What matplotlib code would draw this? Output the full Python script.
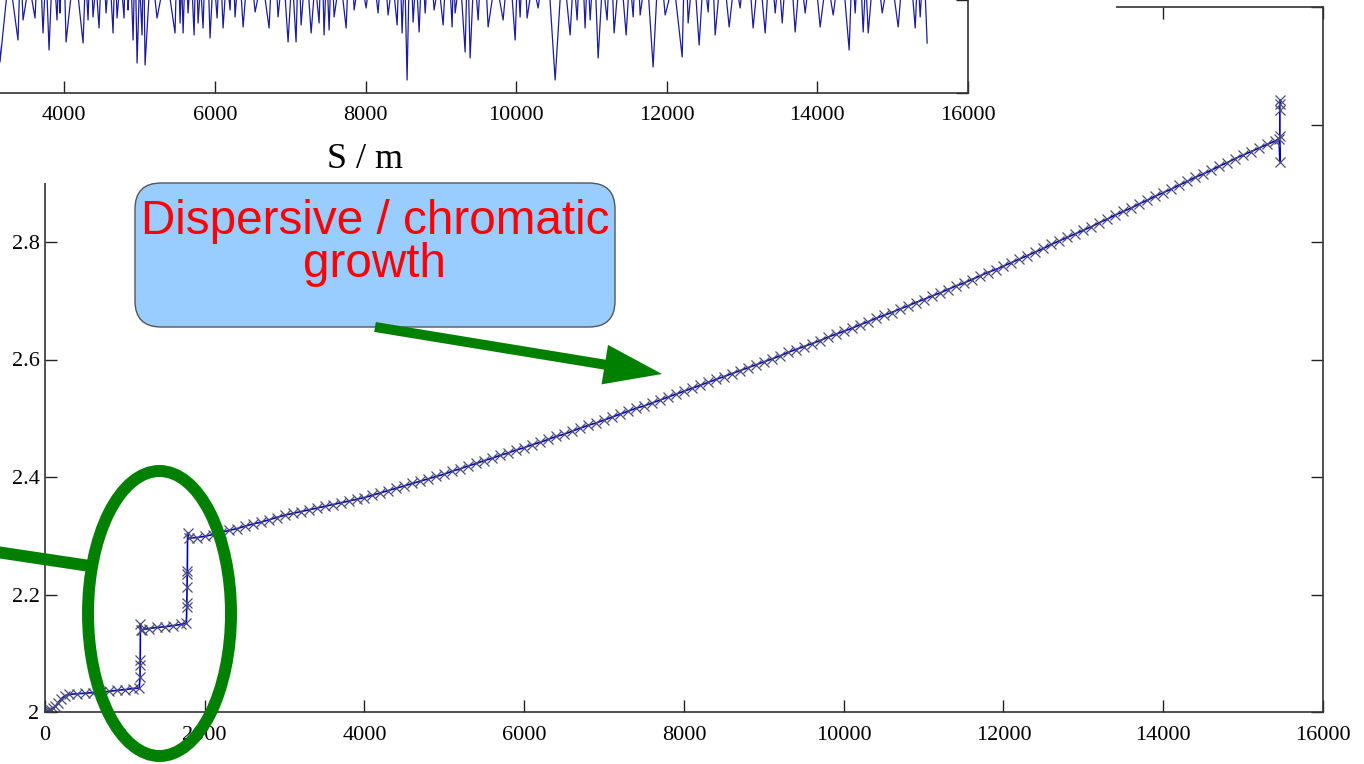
import numpy as np
import matplotlib.pyplot as plt
from matplotlib.patches import Rectangle, FancyBboxPatch, FancyArrow, Ellipse
from matplotlib.lines import Line2D
from matplotlib.transforms import IdentityTransform

# ---- main curve: emittance-like growth along S ----
early_s = [0, 20, 40, 60, 80, 100, 130, 160, 200, 250, 300, 400, 500, 600, 700,
           800, 900, 1000, 1100, 1180, 1190, 1190, 1192, 1195, 1198, 1210, 1300,
           1400, 1500, 1600, 1700, 1770, 1775, 1776, 1778, 1780, 1782, 1785]
early_val = [2.000, 2.000, 2.002, 2.001, 2.004, 2.006, 2.010, 2.015, 2.022, 2.028,
             2.030, 2.031, 2.032, 2.033, 2.034, 2.035, 2.037, 2.038, 2.040, 2.041,
             2.060, 2.080, 2.088, 2.150, 2.140, 2.140, 2.142, 2.144, 2.145, 2.147,
             2.149, 2.151, 2.178, 2.185, 2.212, 2.235, 2.240, 2.305]

arc_start, arc_step = 1800, 100
arc_val = [2.296, 2.297, 2.299, 2.302, 2.305, 2.309, 2.312, 2.316, 2.320, 2.323,
           2.327, 2.331, 2.335,
           2.338, 2.341, 2.344, 2.347, 2.350, 2.353, 2.356, 2.359, 2.362, 2.365,
           2.369, 2.373, 2.377, 2.381, 2.385, 2.389, 2.393, 2.397, 2.401, 2.405,
           2.410, 2.414, 2.419, 2.423, 2.428, 2.432, 2.437, 2.441, 2.446, 2.450,
           2.455, 2.459, 2.464, 2.469, 2.473, 2.478, 2.483, 2.488, 2.492, 2.497,
           2.502, 2.507, 2.512, 2.517, 2.521, 2.526, 2.531, 2.536, 2.541, 2.546,
           2.551, 2.556, 2.561, 2.566, 2.571, 2.576, 2.581, 2.586, 2.591, 2.596,
           2.601, 2.606, 2.612, 2.617, 2.622, 2.627, 2.632, 2.638, 2.643, 2.648,
           2.653, 2.659, 2.664, 2.670, 2.675, 2.680, 2.686, 2.691, 2.697, 2.702,
           2.708, 2.713, 2.719, 2.725, 2.730, 2.736, 2.742, 2.748, 2.753, 2.759,
           2.765, 2.771, 2.777, 2.783, 2.789, 2.796, 2.802, 2.808, 2.814, 2.820,
           2.826, 2.833, 2.839, 2.846, 2.852, 2.858, 2.865, 2.871, 2.878, 2.884,
           2.890, 2.897, 2.903, 2.910, 2.916, 2.922, 2.929, 2.935, 2.942, 2.948,
           2.954, 2.960, 2.966, 2.972]

end_s = [15450, 15460, 15460, 15460, 15460, 15460]
end_val = [2.976, 2.937, 2.980, 3.025, 3.042, 3.035]

# ---- inset: beta-beat style trace (troughs + peaks) ----
trough_s = [3147, 3386, 3453, 3612, 3718, 3798, 3904, 3944, 4024, 4250, 4316, 4382,
            4462, 4555, 4648, 4701, 4794, 4847, 4914, 4967, 5033, 5073, 5232, 5471,
            5538, 5578, 5644, 5724, 5777, 5843, 5936, 6029, 6109, 6202, 6268, 6375,
            6534, 6720, 6839, 6972, 7078, 7145, 7278, 7384, 7450, 7517, 7583, 7743,
            7849, 8008, 8167, 8300, 8420, 8486, 8552, 8632, 8712, 8792, 8911, 9031,
            9150, 9190, 9323, 9389, 9496, 9628, 9827, 9987, 10053, 10146, 10292, 10518,
            10717, 10810, 10916, 10983, 11089, 11208, 11301, 11461, 11554, 11647, 11819, 11979,
            12205, 12284, 12430, 12550, 12643, 12829, 12975, 13147, 13307, 13440, 13533, 13705,
            13838, 14037, 14210, 14422, 14502, 14608, 14675, 14861, 15073, 15299, 15365, 15458]
trough_v = [31, 53, 73, 75, 60, 43, 73, 80, 51, 50, 73, 76,
            65, 80, 60, 75, 75, 83, 53, 30, 58, 28, 75, 60,
            70, 60, 80, 58, 70, 65, 55, 75, 65, 83, 76, 66,
            81, 65, 76, 51, 51, 68, 60, 70, 58, 63, 76, 65,
            83, 85, 80, 78, 68, 60, 13, 71, 61, 80, 83, 68,
            66, 80, 41, 35, 73, 66, 73, 53, 76, 75, 85, 13,
            58, 73, 65, 73, 35, 73, 60, 58, 76, 78, 26, 78,
            36, 70, 48, 81, 58, 66, 85, 65, 60, 80, 70, 61,
            80, 66, 78, 43, 80, 61, 60, 80, 66, 65, 76, 50]
peak_v = [150, 120, 135, 110, 160, 125, 140, 115, 170, 130, 120, 145,
          110, 155, 125, 135, 118, 165, 128, 140, 112, 150, 132, 122,
          160, 115, 138, 126, 148, 110, 170, 124, 136, 118, 152, 130,
          142, 116, 162, 128, 120, 146, 134, 112, 158, 126, 140, 118,
          166, 122, 132, 150, 114, 144, 128, 160, 120, 136, 148, 110,
          154, 130, 118, 142, 126, 168, 116, 138, 124, 156, 112, 146,
          134, 120, 162, 128, 140, 114, 150, 132, 118, 158, 126, 144,
          112, 164, 130, 122, 148, 136, 116, 154, 128, 140, 120, 160,
          124, 146, 118, 138, 130, 152, 114, 142, 126, 170, 122, 136]

x_ticks = [0, 2000, 4000, 6000, 8000, 10000, 12000, 14000, 16000]
y_ticks = [2.0, 2.2, 2.4, 2.6, 2.8, 3.0, 3.2]
y_labels = ["2", "2.2", "2.4", "2.6", "2.8", "3", "3.2"]

W, H = 1364, 764
DPI = 100
serif = "Liberation Serif"
green = "#008000"


def fr(x0, y0, x1, y1):
    # pixel box (top-left origin) -> figure fraction rect
    return [x0 / W, 1 - y1 / H, (x1 - x0) / W, (y1 - y0) / H]


def px(x, y):
    return (x, H - y)


fig = plt.figure(figsize=(W / DPI, H / DPI), dpi=DPI)

# main axes
ax = fig.add_axes(fr(45, 7, 1323, 712), zorder=0)
s_main = list(early_s) + [arc_start + arc_step * i for i in range(len(arc_val))] + end_s
v_main = list(early_val) + list(arc_val) + end_val
ax.plot(s_main, v_main, color="#0000b4", lw=1.2, marker="x", ms=7,
        mec="#4a4a80", mew=0.9)
ax.set_xlim(0, 16000)
ax.set_ylim(2.0, 3.2)
ax.set_xticks(x_ticks)
ax.set_xticklabels([str(t) for t in x_ticks])
ax.set_yticks(y_ticks)
ax.set_yticklabels(y_labels)
ax.tick_params(direction="in", length=8.6, width=1.0, top=True, right=True,
               labelsize=16, color="#222222")
ax.tick_params(axis="x", pad=10)
ax.tick_params(axis="y", pad=4)
for lab in ax.get_xticklabels() + ax.get_yticklabels():
    lab.set_fontfamily(serif)
for sp in ax.spines.values():
    sp.set_color("#333333")
    sp.set_linewidth(1.2)

# white cover behind the inset
fig.add_artist(Rectangle((0, 1 - 183 / H), 1116 / W, 183 / H, transform=fig.transFigure,
                         facecolor="white", edgecolor="none", zorder=1))

# inset axes (partly outside the figure)
ins = fig.add_axes(fr(-237, -207, 968, 93), zorder=2)
ins_s, ins_v = [], []
for i, (ts, tv, pv) in enumerate(zip(trough_s, trough_v, peak_v)):
    ins_s.append(ts - 50 if i == 0 else (trough_s[i - 1] + ts) / 2)
    ins_v.append(pv)
    ins_s.append(ts)
    ins_v.append(tv)
ins.plot(ins_s, ins_v, color="#1c1ca0", lw=0.9)
ins.set_xlim(0, 16000)
ins.set_ylim(0, 300)
ins.set_xticks(x_ticks)
# 0 and 2000 fall outside the picture
ins.set_xticklabels(["", ""] + [str(t) for t in x_ticks[2:]])
ins.set_yticks([0, 93, 186, 279])
ins.set_yticklabels([])
ins.tick_params(direction="in", length=9, width=1.0, top=True, right=True,
                labelsize=16, color="#222222")
ins.tick_params(axis="x", pad=9)
for lab in ins.get_xticklabels():
    lab.set_fontfamily(serif)
for sp in ins.spines.values():
    sp.set_color("#333333")
    sp.set_linewidth(1.2)
ins.set_xlabel("S / m", fontsize=26, family=serif, labelpad=13)

# annotation box
box = FancyBboxPatch(px(135, 327), 480, 144, boxstyle="round,pad=0,rounding_size=26",
                     transform=IdentityTransform(), facecolor="#99ccff",
                     edgecolor="#555555", lw=1.0, zorder=3)
fig.add_artist(box)
fig.text(375 / W, 1 - 199 / H, "Dispersive / chromatic\ngrowth", ha="center", va="top",
         color="red", fontsize=34.3, family="Liberation Sans", linespacing=0.95, zorder=4)

# green arrow
tail = px(375, 327)
tip = px(662, 374)
fig.add_artist(FancyArrow(tail[0], tail[1], tip[0] - tail[0], tip[1] - tail[1],
                          width=10, head_width=40, head_length=58,
                          length_includes_head=True, color=green, lw=0,
                          transform=IdentityTransform(), zorder=5))

# green ellipse and pointer line
fig.add_artist(Ellipse(px(159.5, 613.5), 143, 285, fill=False, edgecolor=green,
                       lw=8.6, transform=IdentityTransform(), zorder=5))
la, lb = px(-10, 551), px(90, 566)
fig.add_artist(Line2D([la[0], lb[0]], [la[1], lb[1]], color=green, lw=8.6,
                      transform=IdentityTransform(), zorder=5))

fig.savefig("out.png", dpi=DPI)
